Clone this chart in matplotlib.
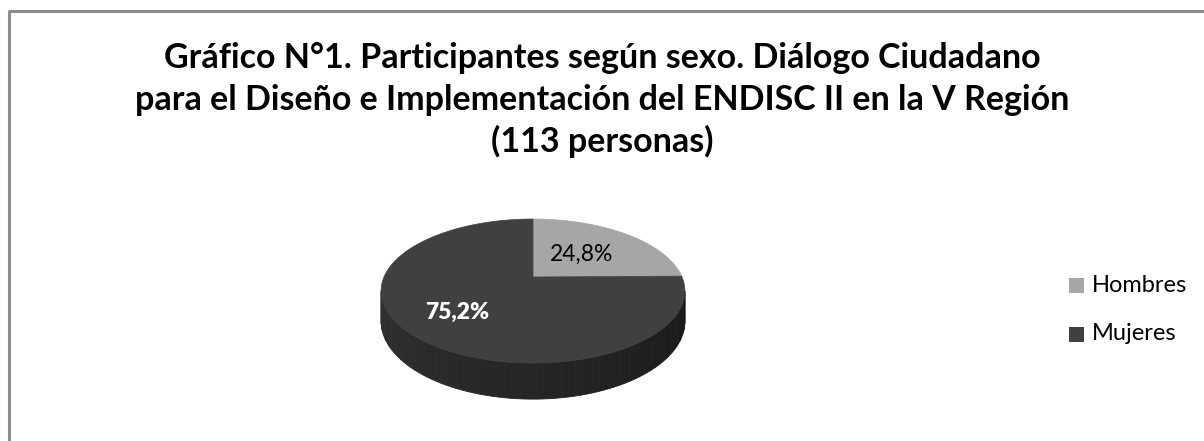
import matplotlib.pyplot as plt
import numpy as np
from matplotlib.lines import Line2D
from matplotlib.patches import Polygon, Rectangle

# Chart data
categories = ["Hombres", "Mujeres"]
percentages = [24.8, 75.2]
pct_labels = ["24,8%", "75,2%"]
title_lines = [
    "Gráfico N°1. Participantes según sexo. Diálogo Ciudadano",
    "para el Diseño e Implementación del ENDISC II en la V Región",
    "(113 personas)",
]

# Styling
slice_colors = ["#a6a6a6", "#404040"]
label_colors = ["black", "white"]
label_weights = ["normal", "heavy"]
label_radius = [0.5, 0.66]

plt.rcParams["font.family"] = ["Lato", "DejaVu Sans"]

W, H = 1204, 441
fig = plt.figure(figsize=(W / 100, H / 100), dpi=100)
ax = fig.add_axes([0, 0, 1, 1])
ax.set_xlim(0, W)
ax.set_ylim(H, 0)
ax.axis("off")

# Perspective disc (pixel space)
cx, cy = 533, 277
sx, sy, k, depth = 149, 69.3, 0.195, 29


def project(t, r=1.0, z=0.0):
    u, v = r * np.cos(t), r * np.sin(t)
    w = 1 + k * v
    return np.column_stack([cx + sx * u / w, cy - sy * v / w + depth * z / w])


# Side wall (front, all Mujeres) with a soft gradient
t0 = np.pi + np.arcsin(k)
t1 = 2 * np.pi - np.arcsin(k)
edges = np.linspace(t0, t1, 80)
for i in range(len(edges) - 1):
    ts = np.linspace(edges[i], edges[i + 1], 3)
    pts = np.vstack([project(ts), project(ts[::-1], z=1)])
    f = i / (len(edges) - 2)
    g = 0.19 - 0.09 * f
    ax.add_patch(Polygon(pts, closed=True, facecolor=(g, g, g), edgecolor=(g, g, g), lw=0.6))

# Top slices, clockwise from 12 o'clock
fracs = np.array(percentages) / sum(percentages)
start = np.pi / 2
for i, frac in enumerate(fracs):
    end = start - 2 * np.pi * frac
    ts = np.linspace(start, end, 200)
    pts = np.vstack([[cx, cy], project(ts)])
    ax.add_patch(Polygon(pts, closed=True, facecolor=slice_colors[i], edgecolor=slice_colors[i], lw=0.5))
    mid = (start + end) / 2
    lx, ly = project(np.array([mid]), r=label_radius[i])[0]
    ax.text(lx, ly, pct_labels[i], ha="center", va="center", fontsize=16.5,
            color=label_colors[i], fontweight=label_weights[i])
    start = end

# Title
for j, line in enumerate(title_lines):
    ax.text(602, 58 + 41.5 * j, line, ha="center", va="center", fontsize=24.5, fontweight="bold")

# Legend
for i, name in enumerate(categories):
    y = 285 + 49 * i
    ax.add_patch(Rectangle((1069, y - 7.5), 15, 15, facecolor=slice_colors[i], edgecolor="none"))
    ax.text(1092, y, name, ha="left", va="center", fontsize=17)

# Chart frame
ax.add_line(Line2D([9, 9, W], [H, 11, 11], color="#8c8c8c", lw=2.2))

fig.savefig("out.png", dpi=100)
